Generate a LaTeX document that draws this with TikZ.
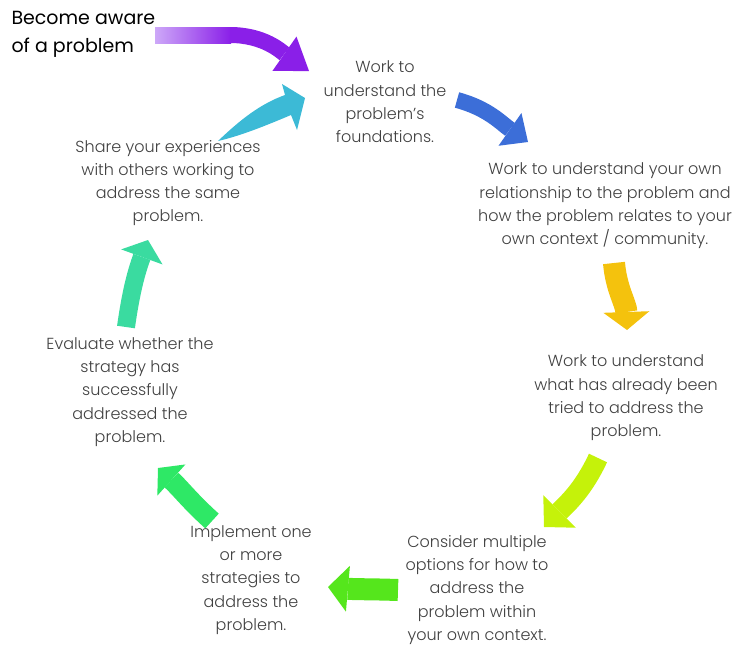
\documentclass[tikz,border=0pt]{standalone}
\usepackage{fontspec}
\setmainfont{Poppins}[UprightFont={* Light}]
\newfontfamily\titlefont{Poppins}
\usetikzlibrary{arrows.meta}
\definecolor{FigureText}{HTML}{404040}
\definecolor{CycleLilac}{HTML}{CDA8F8}
\definecolor{CycleViolet}{HTML}{8A1FE8}
\definecolor{CycleBlue}{HTML}{3C6ED8}
\definecolor{CycleGold}{HTML}{F4C20D}
\definecolor{CycleLime}{HTML}{C5F20A}
\definecolor{CycleGreen}{HTML}{55E61C}
\definecolor{CycleEmerald}{HTML}{2EE866}
\definecolor{CycleMint}{HTML}{3ADBA0}
\definecolor{CycleCyan}{HTML}{3CBAD6}

\begin{document}
\begin{tikzpicture}[x=1pt,y=1pt,
  stage/.style={align=center,text=FigureText,font=\fontsize{16}{23.3}\selectfont},
  bigarrow/.style n args={3}{line width=#1,-{Triangle[length=#2,width=#3,line width=0pt]}}]
  \useasboundingbox (0,0) rectangle (738,-648);
  % the steps of the cycle
  \node[anchor=west,align=left,font=\titlefont\fontsize{19}{28}\selectfont] (aware) at (8,-34) {Become aware\\of a problem};
  \node[stage] (found) at (385,-102) {Work to\\understand the\\problem's\\foundations.};
  \node[stage] (relate) at (605,-206) {Work to understand your own\\relationship to the problem and\\how the problem relates to your\\own context / community.};
  \node[stage] (tried) at (626,-398) {Work to understand\\what has already been\\tried to address the\\problem.};
  \node[stage] (options) at (477,-590) {Consider multiple\\options for how to\\address the\\problem within\\your own context.};
  \node[stage] (implement) at (251,-580) {Implement one\\or more\\strategies to\\address the\\problem.};
  \node[stage] (evaluate) at (130,-392) {Evaluate whether the\\strategy has\\successfully\\addressed the\\problem.};
  \node[stage] (share) at (168,-183) {Share your experiences\\with others working to\\address the same\\problem.};
  % ends of the block arrows
  \coordinate (p0) at (155,-35); \coordinate (p1) at (230,-35); \coordinate (p2) at (309,-71);
  \coordinate (b1) at (457,-100); \coordinate (b2) at (528,-142);
  \coordinate (g1) at (614,-263); \coordinate (g2) at (627,-330);
  \coordinate (l1) at (598,-458); \coordinate (l2) at (544,-527);
  \coordinate (n1) at (398,-590); \coordinate (n2) at (328,-587);
  \coordinate (e1) at (212,-521); \coordinate (e2) at (158,-468);
  \coordinate (m1) at (126,-327); \coordinate (m2) at (148,-240);
  \coordinate (c1) at (218,-141); \coordinate (c2) at (305,-98);
  \shade[left color=CycleLilac,right color=CycleViolet] (p0)+(0,8) rectangle ([yshift=-8pt,xshift=1pt]p1);
  \draw[CycleViolet,bigarrow={16pt}{30pt}{42pt}] (p1) to[out=0,in=145] (p2);
  \draw[CycleBlue,bigarrow={16pt}{22pt}{40pt}] (b1) to[out=-15,in=145] (b2);
  \draw[CycleGold,bigarrow={22pt}{18pt}{46pt}] (g1) to[out=-85,in=92] (g2);
  \draw[CycleLime,bigarrow={20pt}{22pt}{46pt}] (l1) to[out=-115,in=45] (l2);
  \draw[CycleGreen,bigarrow={22pt}{20pt}{46pt}] (n1) to[out=178,in=-5] (n2);
  \draw[CycleEmerald,bigarrow={20pt}{18pt}{42pt}] (e1) to[out=138,in=-42] (e2);
  \draw[CycleMint,bigarrow={18pt}{18pt}{44pt}] (m1) to[out=82,in=-110] (m2);
  % the last arrow tapers to a point at its tail
  \fill[CycleCyan] (c1) .. controls (240,-120) and (260,-104) .. (285,-95) -- (282,-84) -- (c2)
    -- (297,-130) -- (291,-115) .. controls (265,-126) and (240,-136) .. (c1) -- cycle;
\end{tikzpicture}
\end{document}
